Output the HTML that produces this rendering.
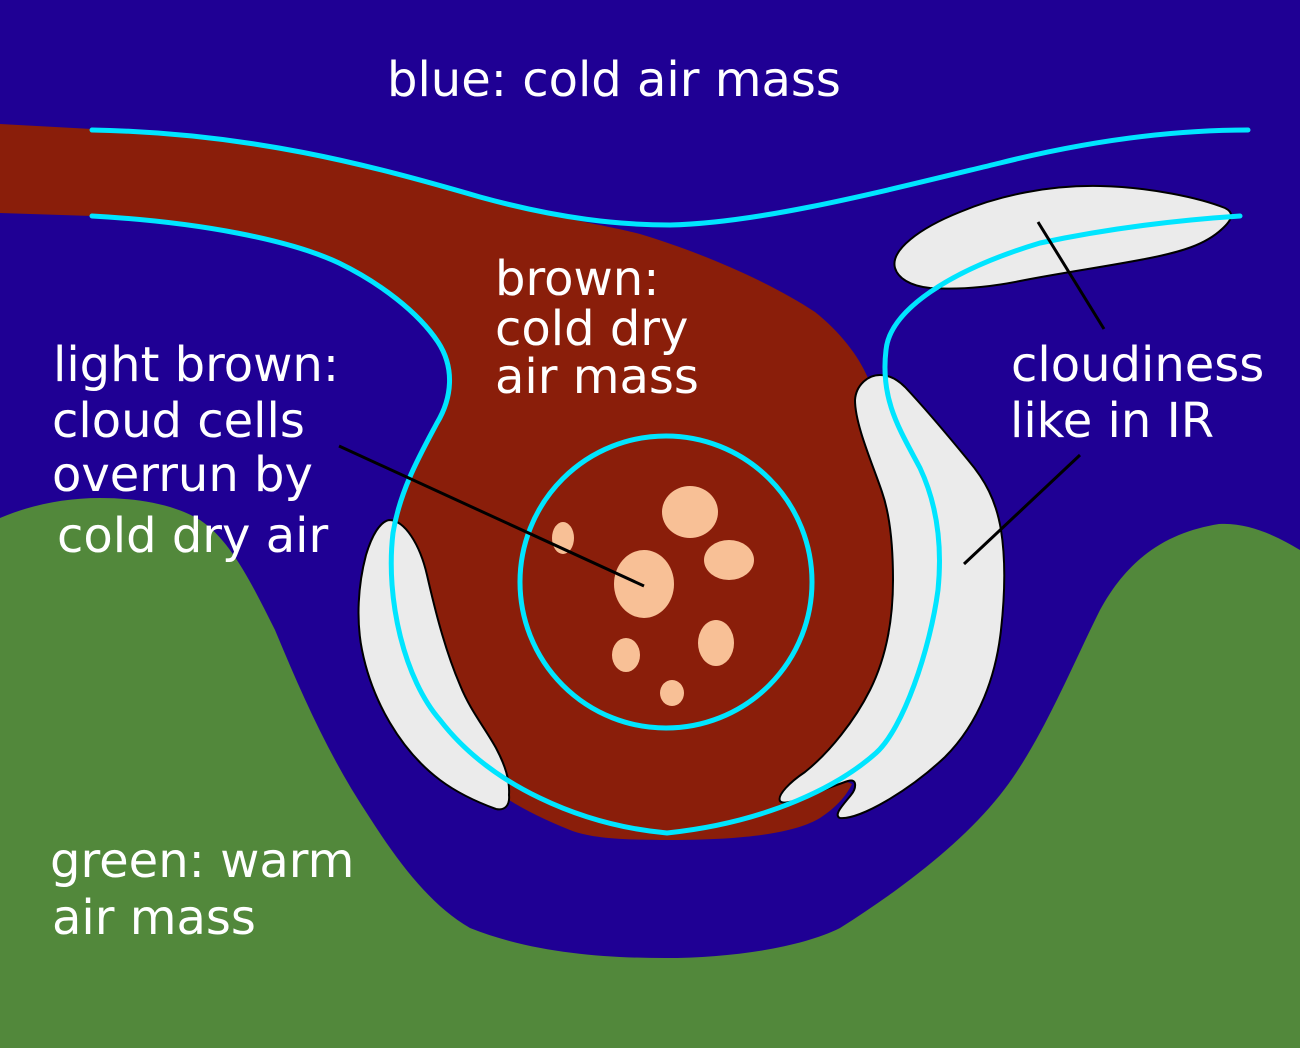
<!DOCTYPE html>
<html>
<head>
<meta charset="utf-8">
<style>
html,body{margin:0;padding:0;background:#1f0094;}
svg{display:block;}
text{font-family:"DejaVu Sans","Liberation Sans",sans-serif;font-size:48px;fill:#ffffff;}
</style>
</head>
<body>
<svg width="1300" height="1048" viewBox="0 0 1300 1048" xmlns="http://www.w3.org/2000/svg">
  <rect x="0" y="0" width="1300" height="1048" fill="#1f0094"/>
  <!-- green warm air -->
  <path d="M0,518 C30,505 65,498 100,498 C140,498 175,505 200,520 C230,540 250,580 275,630 C300,690 328,755 368,815 C398,862 430,905 470,928 C530,952 600,958 665,958 C730,958 800,948 840,928 C900,890 960,845 1000,795 C1040,745 1070,670 1100,610 C1130,555 1170,532 1219,524 C1250,522 1280,538 1300,550 L1300,1048 L0,1048 Z" fill="#52883b"/>
  <!-- brown cold dry air -->
  <path d="M0,124 L92,129 C250,133 370,165 480,197 C560,219 605,225 640,234 C700,252 770,282 815,312 C840,332 858,355 868,378 C885,410 905,470 915,540 C922,600 915,660 890,710 C870,745 845,765 830,775 L852,784 C845,798 835,808 820,818 C800,830 760,840 670,840 C620,840 590,838 570,830 C545,820 525,810 509,800 C500,760 470,720 455,680 C435,630 425,570 395,532 C400,490 420,455 437,423 C450,400 455,370 440,345 C420,315 380,283 339,263 C290,240 200,222 92,216 L0,213 Z" fill="#8a1e0a"/>
  <!-- gray cloud shapes -->
  <path d="M389,520 C380,522 372,535 366,555 C358,585 356,620 362,650 C372,700 400,750 440,780 C460,795 485,805 496,809 C505,811 510,805 509,795 C510,780 505,765 496,748 C485,728 470,710 460,685 C445,650 435,610 427,575 C420,545 405,520 389,520 Z" fill="#ebebeb" stroke="#000" stroke-width="2"/>
  <path d="M880,375 C868,375 856,385 855,400 C855,425 873,465 882,492 C890,515 893,545 893,580 C893,625 885,660 870,690 C855,720 830,752 805,772 C790,782 777,795 780,801 C785,808 820,790 848,781 C858,778 856,789 851,795 C843,805 833,815 840,818 C860,820 910,790 945,757 C980,722 996,675 1001,630 C1006,585 1005,555 1001,530 C996,500 985,480 968,460 C945,432 922,405 905,387 C897,379 889,375 880,375 Z" fill="#ebebeb" stroke="#000" stroke-width="2"/>
  <path d="M895,268 C890,250 920,228 960,212 C1000,195 1050,185 1100,186 C1150,187 1200,198 1225,208 C1235,213 1232,220 1222,229 C1205,245 1180,252 1150,258 C1110,266 1060,273 1020,281 C990,287 960,290 930,288 C910,286 898,278 895,268 Z" fill="#ebebeb" stroke="#000" stroke-width="2"/>
  <!-- cyan lines -->
  <g fill="none" stroke="#00e5ff" stroke-width="5" stroke-linecap="round">
    <path d="M92,130 C250,133 370,165 480,197 C560,219 620,225 670,225 C760,223 880,192 1000,163 C1100,138 1180,130 1248,130"/>
    <path d="M92,216 C200,222 290,240 339,263 C380,283 418,312 438,342 C455,368 452,398 437,423 C420,455 400,490 393,533 C385,600 405,680 440,720 C490,785 580,825 667,833 C770,822 840,785 876,753 C903,729 930,650 938,590 C943,540 935,500 920,468 C900,430 880,400 886,350 C890,310 950,270 1040,243 C1110,228 1180,220 1240,216"/>
    <circle cx="666" cy="582" r="146"/>
  </g>
  <!-- cloud cells -->
  <g fill="#f8c096">
    <ellipse cx="690" cy="512" rx="28" ry="26"/>
    <ellipse cx="563" cy="538" rx="11" ry="16"/>
    <ellipse cx="644" cy="584" rx="30" ry="34"/>
    <ellipse cx="729" cy="560" rx="25" ry="20"/>
    <ellipse cx="716" cy="643" rx="18" ry="23"/>
    <ellipse cx="626" cy="655" rx="14" ry="17"/>
    <ellipse cx="672" cy="693" rx="12" ry="13"/>
  </g>
  <!-- pointer lines -->
  <g stroke="#000" stroke-width="3" fill="none">
    <line x1="339" y1="446" x2="644" y2="586"/>
    <line x1="1038" y1="222" x2="1104" y2="329"/>
    <line x1="1080" y1="455" x2="964" y2="564"/>
  </g>
  <!-- labels -->
  <text x="387" y="96">blue: cold air mass</text>
  <text x="495" y="295">brown:</text>
  <text x="495" y="345">cold dry</text>
  <text x="495" y="393">air mass</text>
  <text x="53" y="381">light brown:</text>
  <text x="52" y="437">cloud cells</text>
  <text x="52" y="491">overrun by</text>
  <text x="57" y="552">cold dry air</text>
  <text x="1011" y="381">cloudiness</text>
  <text x="1010" y="437">like in IR</text>
  <text x="50" y="877">green: warm</text>
  <text x="52" y="934">air mass</text>
</svg>
</body>
</html>
